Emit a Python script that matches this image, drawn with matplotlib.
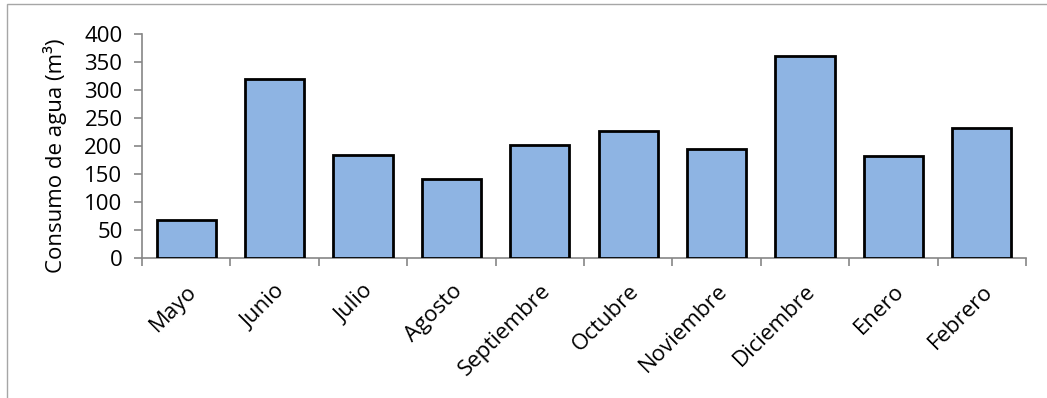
import matplotlib
matplotlib.use("Agg")
import matplotlib.pyplot as plt
from matplotlib.patches import Rectangle
from matplotlib.ticker import FixedLocator, NullFormatter

months = ["Mayo", "Junio", "Julio", "Agosto", "Septiembre", "Octubre",
          "Noviembre", "Diciembre", "Enero", "Febrero"]
consumo = [68, 320, 184, 141, 202, 227, 196, 362, 182, 232]
yticks = [0, 50, 100, 150, 200, 250, 300, 350, 400]

plt.rcParams['font.family'] = ['Open Sans', 'DejaVu Sans']
FS = 16

fig = plt.figure(figsize=(10.47, 3.98), dpi=100)
fig.patches.append(Rectangle((0.0067, -0.01), 1.5, 1.0, transform=fig.transFigure,
                             fill=False, edgecolor='#a6a6a6', linewidth=1.0))
ax = fig.add_axes([0.1356, 0.351, 0.8444, 0.5628])

x = list(range(len(months)))
ax.bar(x, consumo, width=0.67, color='#8eb4e3', edgecolor='black', linewidth=2.0, zorder=3)

ax.set_xlim(-0.5, len(months) - 0.5)
ax.set_ylim(0, 400)
ax.set_yticks(yticks)
ax.set_xticks(x)
ax.set_xticklabels(months, rotation=45, ha='right', rotation_mode='anchor')
ax.tick_params(axis='x', which='major', length=0, pad=16, labelsize=FS)
ax.xaxis.set_minor_locator(FixedLocator([i - 0.5 for i in range(len(months) + 1)]))
ax.xaxis.set_minor_formatter(NullFormatter())
ax.tick_params(axis='x', which='minor', length=6, width=1.2, color='#868686', direction='out')
ax.tick_params(axis='y', length=6, width=1.2, color='#868686', direction='out', labelsize=FS, pad=8)

for s in ['top', 'right']:
    ax.spines[s].set_visible(False)
for s in ['left', 'bottom']:
    ax.spines[s].set_color('#868686')
    ax.spines[s].set_linewidth(1.2)

ax.set_ylabel('Consumo de agua (m³)', fontsize=FS)
ax.yaxis.set_label_coords(-0.085, 0.46)

fig.savefig('out.png', dpi=100)
